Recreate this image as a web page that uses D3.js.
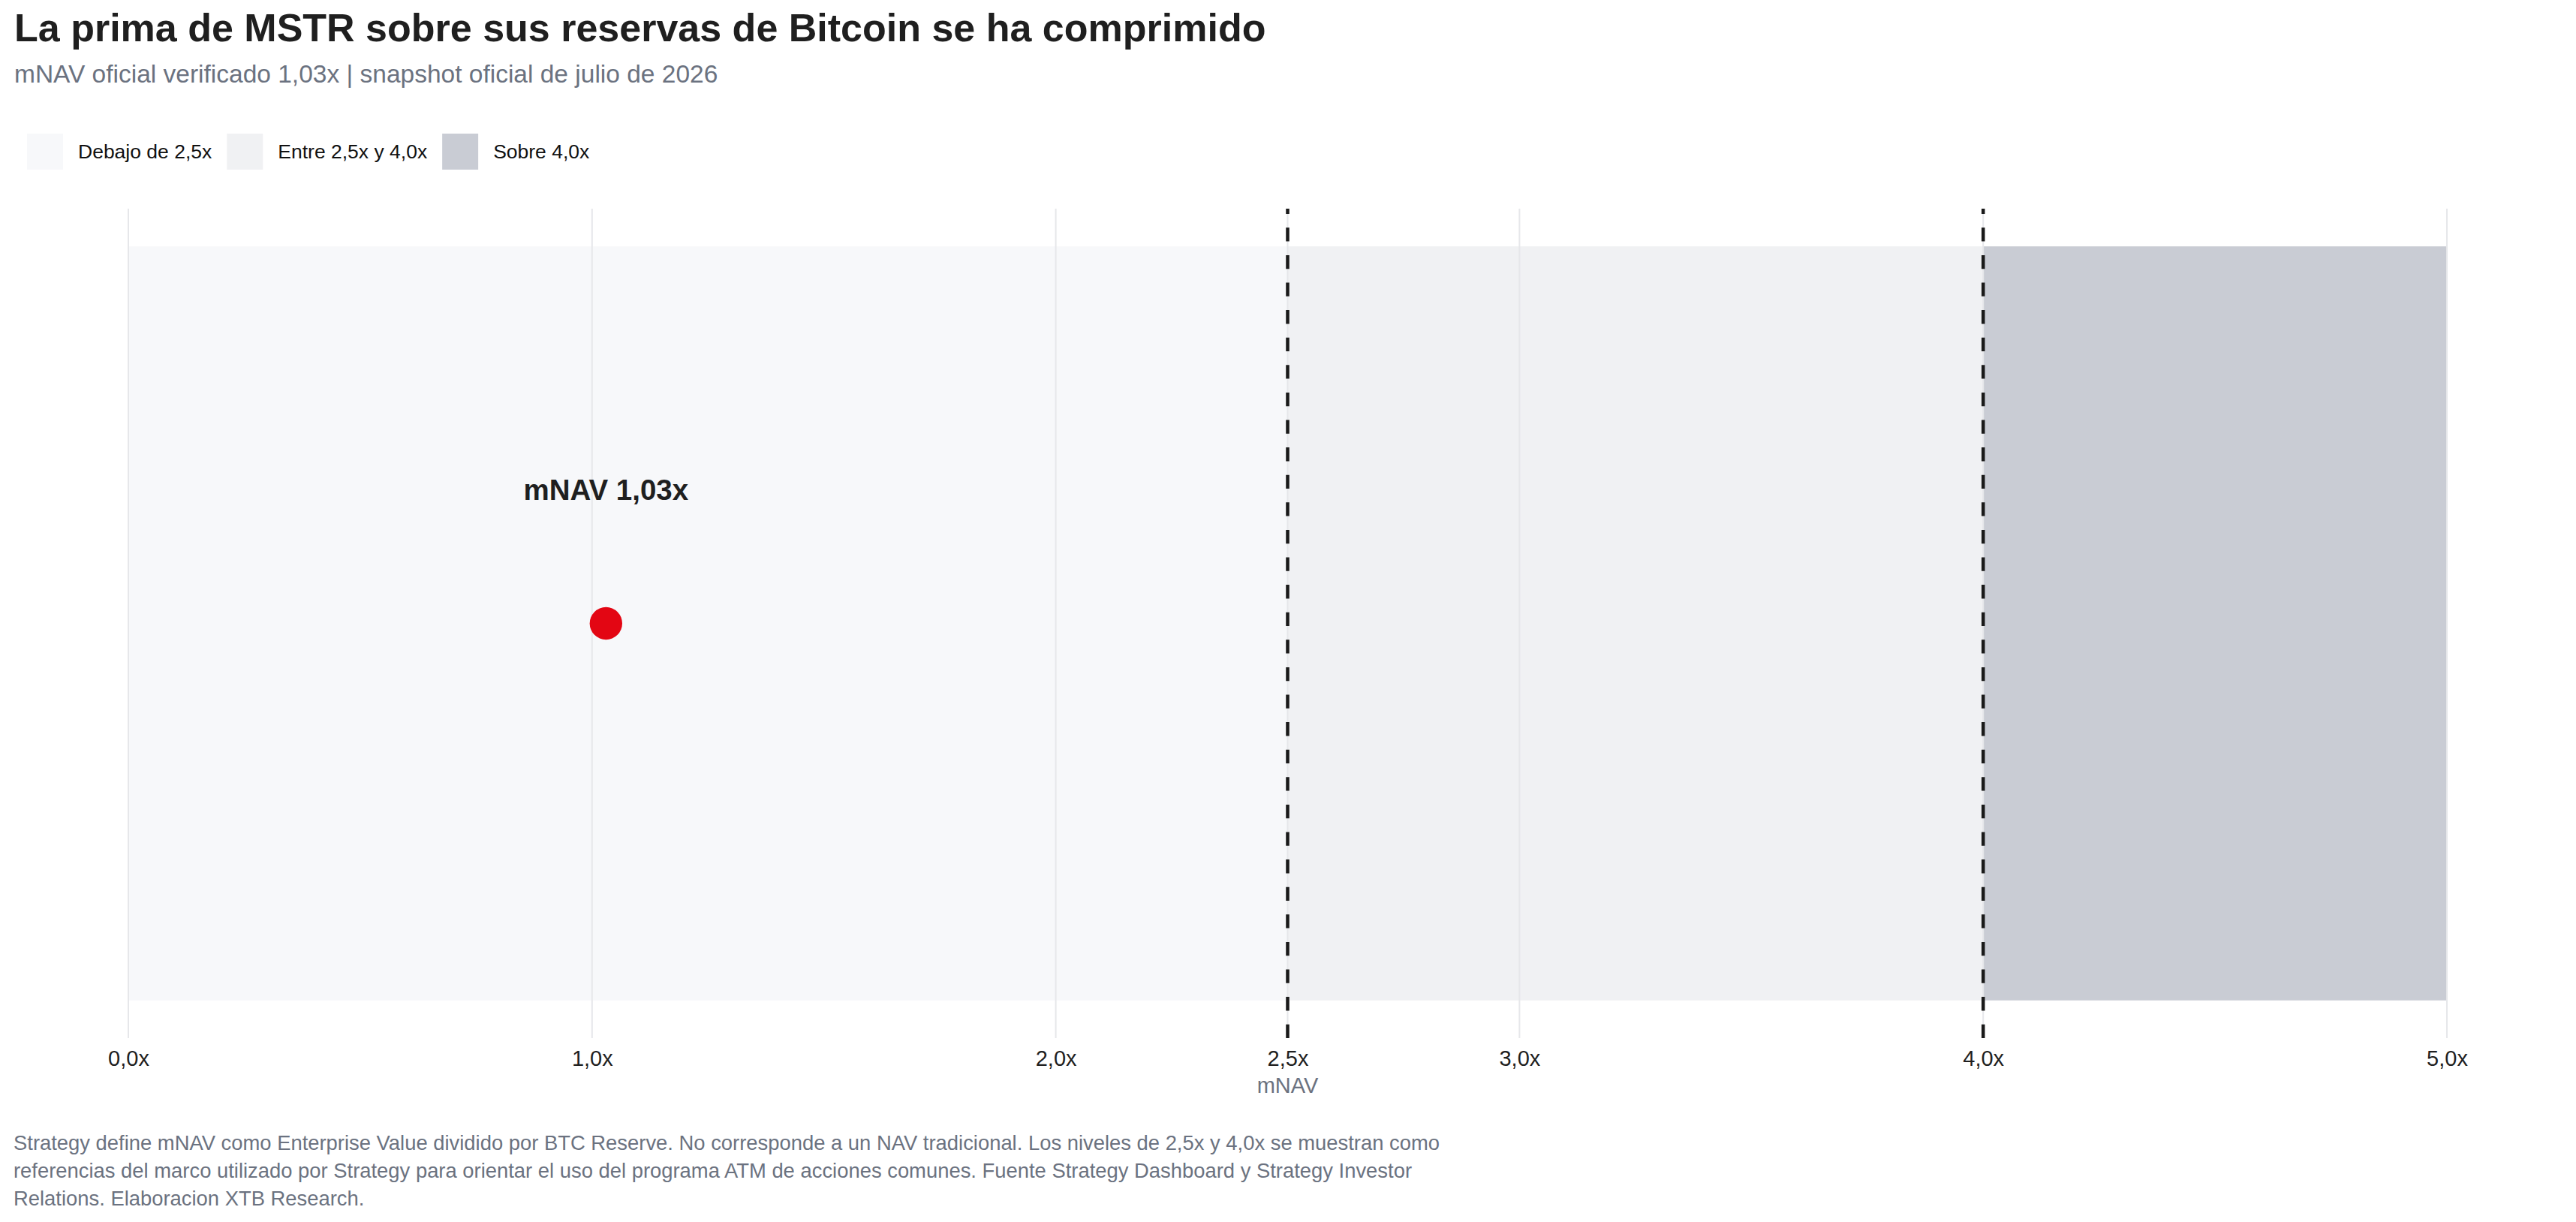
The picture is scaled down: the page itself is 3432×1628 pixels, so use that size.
<!DOCTYPE html>
<html>
<head>
<meta charset="utf-8">
<script src="https://cdn.jsdelivr.net/npm/d3@7"></script>
<style>
  body { margin: 0; background: #fff; }
  svg text { font-family: "Liberation Sans", Arial, sans-serif; }
</style>
</head>
<body>
<div id="chart"></div>
<script>
// chart data
const zoneNames = ["Debajo de 2,5x", "Entre 2,5x y 4,0x", "Sobre 4,0x"];
const zoneStart = [0, 2.5, 4.0];
const zoneEnd = [2.5, 4.0, 5.0];
const thresholds = [2.5, 4.0];
const tickValues = [0, 1, 2, 2.5, 3, 4, 5];
const tickLabels = ["0,0x", "1,0x", "2,0x", "2,5x", "3,0x", "4,0x", "5,0x"];
const pointNames = ["mNAV 1,03x"];
const pointValues = [1.03];

const titleText = "La prima de MSTR sobre sus reservas de Bitcoin se ha comprimido";
const subtitleText = "mNAV oficial verificado 1,03x | snapshot oficial de julio de 2026";
const noteLines = [
    "Strategy define mNAV como Enterprise Value dividido por BTC Reserve. No corresponde a un NAV tradicional. Los niveles de 2,5x y 4,0x se muestran como",
    "referencias del marco utilizado por Strategy para orientar el uso del programa ATM de acciones comunes. Fuente Strategy Dashboard y Strategy Investor",
    "Relations. Elaboracion XTB Research."
];

const W = 3432, H = 1628;
const plot = {left: 171, right: 3260, top: 278, bottom: 1383};

const svg = d3.select("#chart").append("svg")
    .attr("width", W)
    .attr("height", H);

const x = d3.scaleLinear().domain([0, 5]).range([plot.left, plot.right]);
const y = d3.scaleLinear().domain([-0.55, 0.55]).range([plot.bottom, plot.top]);
const zoneColor = d3.scaleOrdinal().domain(zoneNames).range(["#f7f8fa", "#f0f1f3", "#c9ccd4"]);

// title block
svg.append("text")
    .attr("x", 19).attr("y", 55)
    .attr("font-size", 52).attr("font-weight", "bold")
    .attr("fill", "#1f1f1f")
    .text(titleText);

svg.append("text")
    .attr("x", 19).attr("y", 110)
    .attr("font-size", 33.5)
    .attr("fill", "#6b7280")
    .text(subtitleText);

// legend
let lx = 36;
const legend = svg.append("g");
zoneNames.forEach(function(name) {
    let g = legend.append("g");
    g.append("rect")
        .attr("x", lx).attr("y", 178)
        .attr("width", 48).attr("height", 48)
        .attr("fill", zoneColor(name));
    let t = g.append("text")
        .attr("x", lx + 68).attr("y", 211)
        .attr("font-size", 26.5)
        .attr("fill", "#111")
        .text(name);
    lx = lx + 68 + t.node().getComputedTextLength() + 20;
});

// zones
svg.append("g")
    .selectAll("rect")
    .data(zoneNames)
    .enter().append("rect")
    .attr("x", (d, i) => x(zoneStart[i]))
    .attr("width", (d, i) => x(zoneEnd[i]) - x(zoneStart[i]))
    .attr("y", y(0.5))
    .attr("height", y(-0.5) - y(0.5))
    .attr("fill", (d) => zoneColor(d));

// grid
svg.append("g")
    .selectAll("line")
    .data(tickValues)
    .enter().append("line")
    .attr("x1", (d) => x(d)).attr("x2", (d) => x(d))
    .attr("y1", plot.top).attr("y2", plot.bottom)
    .attr("stroke", "#e6e7ea")
    .attr("stroke-width", 2);

// threshold lines, drawn bottom-up so the dash pattern starts at the axis
svg.append("g")
    .selectAll("line")
    .data(thresholds)
    .enter().append("line")
    .attr("x1", (d) => x(d)).attr("x2", (d) => x(d))
    .attr("y1", plot.bottom).attr("y2", plot.top)
    .attr("stroke", "#1a1a1a")
    .attr("stroke-width", 4.5)
    .attr("stroke-dasharray", "18.3,18.3");

// x axis labels
const xAxis = d3.axisBottom(x)
    .tickValues(tickValues)
    .tickFormat((d, i) => tickLabels[i])
    .tickSize(0)
    .tickPadding(0);

const ax = svg.append("g")
    .attr("transform", "translate(0," + plot.bottom + ")")
    .call(xAxis);
ax.select(".domain").remove();
ax.selectAll("text")
    .attr("font-family", null)
    .attr("dy", null)
    .attr("y", 37)
    .attr("font-size", 29)
    .attr("fill", "#1f1f1f");

svg.append("text")
    .attr("x", (plot.left + plot.right) / 2).attr("y", 1456)
    .attr("text-anchor", "middle")
    .attr("font-size", 29)
    .attr("fill", "#6b7280")
    .text("mNAV");

// point + label
svg.append("g")
    .selectAll("circle")
    .data(pointValues)
    .enter().append("circle")
    .attr("cx", (d) => x(d))
    .attr("cy", y(0))
    .attr("r", 21.7)
    .attr("fill", "#e30613");

svg.append("g")
    .selectAll("text")
    .data(pointValues)
    .enter().append("text")
    .attr("x", (d) => x(d))
    .attr("y", y(0) - 165)
    .attr("text-anchor", "middle")
    .attr("font-size", 38.5).attr("font-weight", "bold")
    .attr("fill", "#1f1f1f")
    .text((d, i) => pointNames[i]);

// footnote
svg.append("text")
    .attr("font-size", 27.4)
    .attr("fill", "#6b7280")
    .selectAll("tspan")
    .data(noteLines)
    .enter().append("tspan")
    .attr("x", 18)
    .attr("y", (d, i) => 1532 + i * 37)
    .text((d) => d);
</script>
</body>
</html>
